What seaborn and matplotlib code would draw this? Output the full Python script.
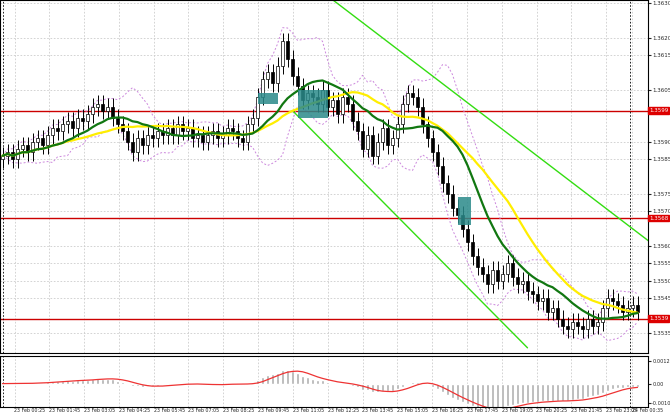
import numpy as np
import pandas as pd
import matplotlib
matplotlib.use('Agg')
import matplotlib.pyplot as plt
import seaborn as sns

sns.set_style('white')
plt.rcParams['font.family'] = ['DejaVu Sans']

# closing prices, one every ~5 px of the original chart
closes = [1.3586, 1.3587, 1.3585, 1.3588, 1.3589, 1.3587, 1.3590, 1.3591, 1.3589, 1.3592,
          1.3594, 1.3593, 1.3595, 1.3596, 1.3594, 1.3597, 1.3596, 1.3598, 1.3600, 1.3601,
          1.3599, 1.3600, 1.3597, 1.3595, 1.3593, 1.3590, 1.3587, 1.3591, 1.3589, 1.3592,
          1.3591, 1.3593, 1.3592, 1.3594, 1.3592, 1.3595, 1.3593, 1.3594, 1.3591, 1.3592,
          1.3590, 1.3592, 1.3593, 1.3591, 1.3592, 1.3594, 1.3593, 1.3591, 1.3590, 1.3595,
          1.3597, 1.3603, 1.3608, 1.3610, 1.3607, 1.3612, 1.3619, 1.3614, 1.3609, 1.3606,
          1.3602, 1.3604, 1.3603, 1.3601, 1.3605, 1.3600, 1.3602, 1.3598, 1.3603, 1.3601,
          1.3596, 1.3593, 1.3588, 1.3592, 1.3586, 1.3590, 1.3594, 1.3589, 1.3591, 1.3595,
          1.3601, 1.3604, 1.3603, 1.3600, 1.3595, 1.3591, 1.3587, 1.3583, 1.3578, 1.3575,
          1.3571, 1.3569, 1.3565, 1.3561, 1.3557, 1.3554, 1.3552, 1.3549, 1.3553, 1.3550,
          1.3552, 1.3555, 1.3551, 1.3549, 1.3550, 1.3547, 1.3546, 1.3544, 1.3545, 1.3541,
          1.3542, 1.3539, 1.3537, 1.3536, 1.3538, 1.3537, 1.3536, 1.3539, 1.3537, 1.3538,
          1.3542, 1.3545, 1.3544, 1.3543, 1.3541, 1.3542, 1.3543, 1.3541]
open0 = 1.3585
wick = 0.00025

levels = [1.3599, 1.3568, 1.3539]
price_ticks = [1.3535, 1.3545, 1.3550, 1.3555, 1.3560, 1.3570, 1.3575, 1.3585,
               1.3590, 1.3605, 1.3615, 1.3620, 1.3630]
time_labels = ['23 Feb 00:25', '23 Feb 01:45', '23 Feb 03:05', '23 Feb 04:25', '23 Feb 05:45',
               '23 Feb 07:05', '23 Feb 08:25', '23 Feb 09:45', '23 Feb 11:05', '23 Feb 12:25',
               '23 Feb 13:45', '23 Feb 15:05', '23 Feb 16:25', '23 Feb 17:45', '23 Feb 19:05',
               '23 Feb 20:25', '23 Feb 21:45', '23 Feb 23:05', '24 Feb 00:35']
time_pos = [2.4 + 6.96 * i for i in range(18)] + [125.9]
# channel lines (bar index, price)
upper_ch = [(66, 1.3631), (129.6, 1.3561)]
lower_ch = [(58, 1.3599), (105, 1.35306)]
# entry boxes (x0, x1, p0, p1)
boxes = [(51, 55, 1.3601, 1.3604), (59, 65, 1.3597, 1.3605), (91, 93.6, 1.3566, 1.3574)]

c = pd.Series(closes)
o = c.shift(1).fillna(open0)
hi = np.maximum(o, c) + wick
lo = np.minimum(o, c) - wick
x = np.arange(len(c))
sma_fast = c.rolling(13, min_periods=1).mean()
sma_slow = c.rolling(22, min_periods=1).mean()
bb_mid = c.rolling(9, min_periods=1).mean()
bb_std = c.rolling(9, min_periods=2).std().fillna(0)
macd = c.ewm(span=8).mean() - c.ewm(span=20).mean()
signal = macd.rolling(5, min_periods=1).mean()

fig = plt.figure(figsize=(6.7, 4.2), dpi=100)
ax = fig.add_axes([0.0, 0.1595, 648 / 670, 0.8405])
ax2 = fig.add_axes([0.0, 0.031, 648 / 670, 0.121])
xl = (-0.5, 129.1)

for a in (ax, ax2):
    a.set_xlim(*xl)
    for t in time_pos:
        a.axvline(t, color='#cccccc', ls=(0, (2, 2)), lw=0.6, zorder=0)
    a.axvline(0, color='black', ls=(0, (2, 2)), lw=0.6)
    a.axvline(125.5, color='black', ls=(0, (2, 2)), lw=0.6)
    a.yaxis.tick_right()
    a.tick_params(axis='y', labelsize=4, length=2, pad=1)
    for s in a.spines.values():
        s.set_color('black')
        s.set_linewidth(0.8)

for p in price_ticks:
    ax.axhline(p, color='#cccccc', ls=(0, (2, 2)), lw=0.6, zorder=0)

ax.vlines(x, lo, hi, color='black', lw=0.7, zorder=3)
up = c >= o
ax.bar(x[up], (c - o)[up], bottom=o[up], width=0.7, color='white', edgecolor='black', lw=0.5, zorder=4)
ax.bar(x[~up], (o - c)[~up], bottom=c[~up], width=0.7, color='black', edgecolor='black', lw=0.5, zorder=4)

ax.plot(x, bb_mid + 2 * bb_std, color='#cc88dd', ls=(0, (2, 2)), lw=0.7, zorder=2)
ax.plot(x, bb_mid - 2 * bb_std, color='#cc88dd', ls=(0, (2, 2)), lw=0.7, zorder=2)
ax.plot(x, sma_slow, color='#ffee00', lw=1.6, zorder=5)
ax.plot(x, sma_fast, color='#117711', lw=1.6, zorder=6)

for ch in (upper_ch, lower_ch):
    ax.plot([ch[0][0], ch[1][0]], [ch[0][1], ch[1][1]], color='#33dd11', lw=1.0, zorder=2)

for x0, x1, p0, p1 in boxes:
    ax.fill_between([x0, x1], p0, p1, color='#2a8a8a', alpha=0.85, zorder=7, lw=0)

for lv in levels:
    ax.axhline(lv, color='#cc0000', lw=1.0, zorder=1)
    ax.text(1.002, lv, f'{lv:.4f}', transform=ax.get_yaxis_transform(), fontsize=4,
            color='white', va='center', ha='left',
            bbox=dict(boxstyle='square,pad=0.15', fc='#dd0000', ec='#dd0000'))

ax.set_ylim(1.35291, 1.36309)
ax.set_yticks(price_ticks)
ax.set_yticklabels([f'{p:.4f}' for p in price_ticks])
ax.set_xticks([])

ax2.bar(x, macd, width=0.5, color='#b0b0b0', zorder=2)
ax2.plot(x, signal, color='#ee3333', lw=0.9, zorder=3)
ax2.set_ylim(-0.00115, 0.00135)
ax2.set_yticks([0.00110, 0.0, -0.00095])
ax2.set_yticklabels(['0.00121', '0.00', '-0.00103'])
ax2.tick_params(axis='y', labelsize=3.6)
ax2.set_xticks(time_pos)
ax2.set_xticklabels(time_labels, fontsize=3.4, ha='left')
ax2.tick_params(axis='x', length=0, pad=1)

fig.savefig('out.png', dpi=100)
